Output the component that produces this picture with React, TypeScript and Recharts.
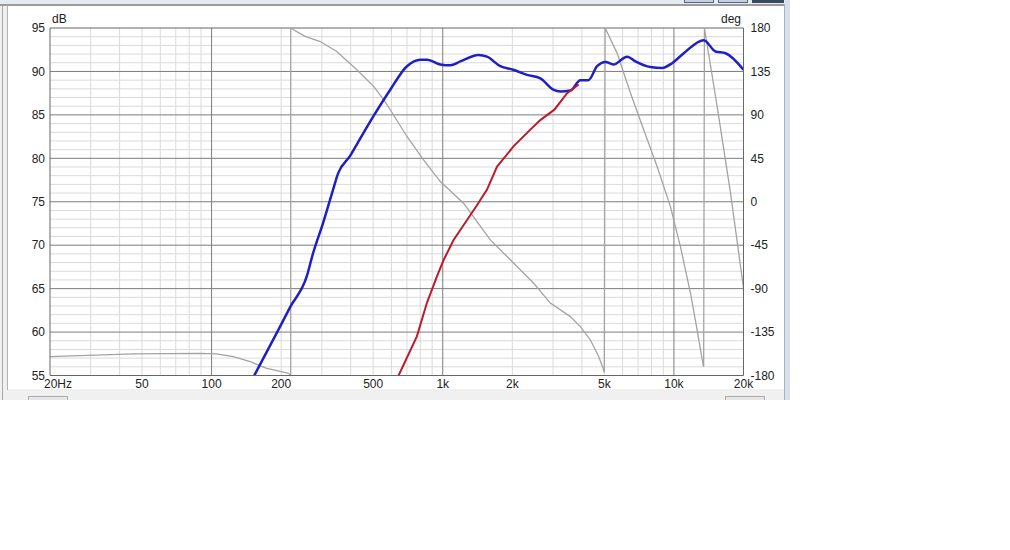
import React from "react";
import { LineChart, Line, XAxis, YAxis, ReferenceLine } from "recharts";

// SPL (blue), Hz / dB
const blueFreq = [153, 194, 219, 258, 275, 304, 332, 353, 398, 427, 500, 593, 700, 800, 855, 976, 1078, 1192, 1426, 1554, 1775, 2020, 2316, 2643, 3008, 3228, 3566, 3937, 4267, 4652, 5057, 5472, 6278, 6814, 7912, 8892, 9820, 11032, 13460, 15120, 16720, 20000];
const blueDb = [55, 60.2, 62.9, 66.4, 69.1, 72.6, 76.0, 78.3, 80.3, 81.7, 84.8, 87.9, 90.6, 91.35, 91.35, 90.8, 90.7, 91.15, 91.9, 91.7, 90.6, 90.2, 89.6, 89.2, 87.9, 87.7, 87.8, 89.0, 89.0, 90.6, 91.1, 90.8, 91.7, 91.15, 90.5, 90.4, 90.95, 92.1, 93.6, 92.3, 92.1, 90.2];

// second trace (red)
const redFreq = [644, 773, 855, 944, 1009, 1114, 1274, 1406, 1554, 1718, 2028, 2393, 2643, 3040, 3452, 3873];
const redDb = [55, 59.5, 63.4, 66.4, 68.3, 70.6, 72.9, 74.6, 76.4, 79.05, 81.4, 83.3, 84.4, 85.6, 87.5, 88.5];

// phase (gray), wraps at +/-180
const phaseFreq = [20, 46, 89, 105, 124, 147, 173, 192, 215, 220, 220, 223, 254, 295, 348, 425, 502, 555, 593, 700, 826, 976, 1230, 1606, 2028, 2474, 2920, 3566, 3937, 4352, 4730, 4970, 5000, 5040, 5678, 6486, 7400, 8460, 9660, 10670, 11800, 12600, 13380, 13450, 13550, 15380, 17580, 20000];
const phaseDeg = [-160.5, -157.7, -157, -157.7, -160.5, -165.7, -172.6, -175, -177.7, -180, 180, 179, 171.3, 166, 155.7, 136.8, 119.5, 105.7, 95.3, 67.6, 43.4, 20.9, -1.5, -39.5, -63.7, -84.4, -105, -119, -129.4, -143.2, -160.5, -174.3, -177, 180, 154, 112.6, 74.5, 36.5, -5, -46.5, -94.8, -132.8, -169, -171, 180, 98.7, 9, -89.6];

const freqTicks = [20, 50, 100, 200, 500, 1000, 2000, 5000, 10000, 20000];
const freqLabels = ["20Hz", "50", "100", "200", "500", "1k", "2k", "5k", "10k", "20k"];
const dbTicks = [55, 60, 65, 70, 75, 80, 85, 90, 95];
const degTicks = [-180, -135, -90, -45, 0, 45, 90, 135, 180];
const minorFreqs = [30, 40, 50, 60, 70, 80, 90, 200, 300, 400, 500, 600, 700, 800, 900, 2000, 3000, 4000, 5000, 6000, 7000, 8000, 9000];
const majorFreqs = [100, 1000, 10000];
const minorDb = [56, 57, 58, 59, 61, 62, 63, 64, 66, 67, 68, 69, 71, 72, 73, 74, 76, 77, 78, 79, 81, 82, 83, 84, 86, 87, 88, 89, 91, 92, 93, 94];
const majorDb = [60, 65, 70, 75, 80, 85, 90];

const zip = (xs: number[], ys: number[]) => xs.map((f, i) => ({ f, v: ys[i] }));
const blueData = zip(blueFreq, blueDb);
const redData = zip(redFreq, redDb);
const phaseData = zip(phaseFreq, phaseDeg);

const FONT = "'Liberation Sans', Arial, sans-serif";
const MAJOR = "#7c7c7c";
const MINOR = "#dadada";

const FreqTick = (props: any) => {
  const { x, y, payload } = props;
  const i = freqTicks.indexOf(payload.value);
  return (
    <text
      x={x + (i === 0 ? 8 : 0)}
      y={y}
      dy="0.71em"
      textAnchor="middle"
      fill="#222"
      fontSize={12}
      fontFamily={FONT}
    >
      {freqLabels[i]}
    </text>
  );
};

const box = (s: React.CSSProperties): React.CSSProperties => ({
  position: "absolute",
  boxSizing: "border-box",
  ...s,
});

export default function App() {
  return (
    <div style={box({ left: 0, top: 0, width: 1010, height: 550, background: "#fff", overflow: "hidden" })}>
      {/* window chrome */}
      <div style={box({ left: 0, top: 0, width: 790, height: 400, background: "#f0f0f0" })} />
      <div style={box({ left: 0, top: 0, width: 785, height: 4, background: "#e6ebf1" })} />
      <div style={box({ left: 684, top: 0, width: 30, height: 3, background: "#c5d1e0", border: "1px solid #55657a", borderTop: "none" })} />
      <div style={box({ left: 718, top: 0, width: 30, height: 3, background: "#c5d1e0", border: "1px solid #55657a", borderTop: "none" })} />
      <div style={box({ left: 752, top: 0, width: 32, height: 3, background: "#3c4a5e" })} />
      <div style={box({ left: 0, top: 4, width: 785, height: 2, background: "#9c9c9c" })} />
      <div style={box({ left: 2, top: 6, width: 1, height: 394, background: "#a8a8a8" })} />
      <div style={box({ left: 7, top: 6, width: 1, height: 384, background: "#b4b4b4" })} />
      <div style={box({ left: 8, top: 6, width: 776, height: 383, background: "#fff" })} />
      <div style={box({ left: 784, top: 4, width: 1, height: 396, background: "#b0b0b0" })} />
      <div style={box({ left: 785, top: 0, width: 5, height: 400, background: "#d5e0ee" })} />
      <div style={box({ left: 28, top: 396, width: 40, height: 4, background: "#e6e6e6", border: "1px solid #adadad", borderBottom: "none" })} />
      <div style={box({ left: 725, top: 396, width: 40, height: 4, background: "#e6e6e6", border: "1px solid #adadad", borderBottom: "none" })} />

      <div style={box({ left: 52, top: 12, fontSize: 12, lineHeight: "14px", fontFamily: FONT, color: "#222" })}>dB</div>
      <div style={box({ left: 700, width: 41, top: 12, fontSize: 12, lineHeight: "14px", fontFamily: FONT, color: "#222", textAlign: "right" })}>deg</div>

      <div style={box({ left: 0, top: 0 })}>
        <LineChart width={790} height={400} margin={{ top: 28, right: 0, bottom: 0, left: 0 }}>
          <XAxis
            dataKey="f"
            type="number"
            scale="log"
            domain={[20, 20000]}
            allowDataOverflow
            ticks={freqTicks}
            interval={0}
            height={24.5}
            tickSize={0}
            tickMargin={4}
            tickLine={false}
            axisLine={{ stroke: "#666" }}
            tick={<FreqTick />}
          />
          <YAxis
            yAxisId="db"
            type="number"
            domain={[55, 95]}
            allowDataOverflow
            ticks={dbTicks}
            interval={0}
            width={50}
            tickSize={0}
            tickMargin={5}
            tickLine={false}
            axisLine={{ stroke: "#666" }}
            tick={{ fill: "#222", fontSize: 12, fontFamily: FONT }}
          />
          <YAxis
            yAxisId="deg"
            orientation="right"
            type="number"
            domain={[-180, 180]}
            allowDataOverflow
            ticks={degTicks}
            interval={0}
            width={46.5}
            tickSize={0}
            tickMargin={7}
            tickLine={false}
            axisLine={{ stroke: "#666" }}
            tick={{ fill: "#222", fontSize: 12, fontFamily: FONT }}
          />
          {minorFreqs.map((f) => (
            <ReferenceLine key={`mf${f}`} x={f} yAxisId="db" stroke={MINOR} strokeWidth={1} />
          ))}
          {minorDb.map((d) => (
            <ReferenceLine key={`md${d}`} y={d} yAxisId="db" stroke={MINOR} strokeWidth={1} />
          ))}
          {majorFreqs.map((f) => (
            <ReferenceLine key={`Mf${f}`} x={f} yAxisId="db" stroke={MAJOR} strokeWidth={1} />
          ))}
          {majorDb.map((d) => (
            <ReferenceLine key={`Md${d}`} y={d} yAxisId="db" stroke={MAJOR} strokeWidth={1} />
          ))}
          <ReferenceLine y={95} yAxisId="db" stroke="#666" strokeWidth={1} />
          <Line
            data={phaseData}
            dataKey="v"
            yAxisId="deg"
            type="linear"
            stroke="#a3a3a3"
            strokeWidth={1.3}
            dot={false}
            activeDot={false}
            isAnimationActive={false}
          />
          <Line
            data={blueData}
            dataKey="v"
            yAxisId="db"
            type="monotone"
            stroke="#1f1fc4"
            strokeWidth={2.5}
            dot={false}
            activeDot={false}
            isAnimationActive={false}
          />
          <Line
            data={redData}
            dataKey="v"
            yAxisId="db"
            type="linear"
            stroke="#be1a2c"
            strokeWidth={2}
            dot={false}
            activeDot={false}
            isAnimationActive={false}
          />
        </LineChart>
      </div>
    </div>
  );
}
